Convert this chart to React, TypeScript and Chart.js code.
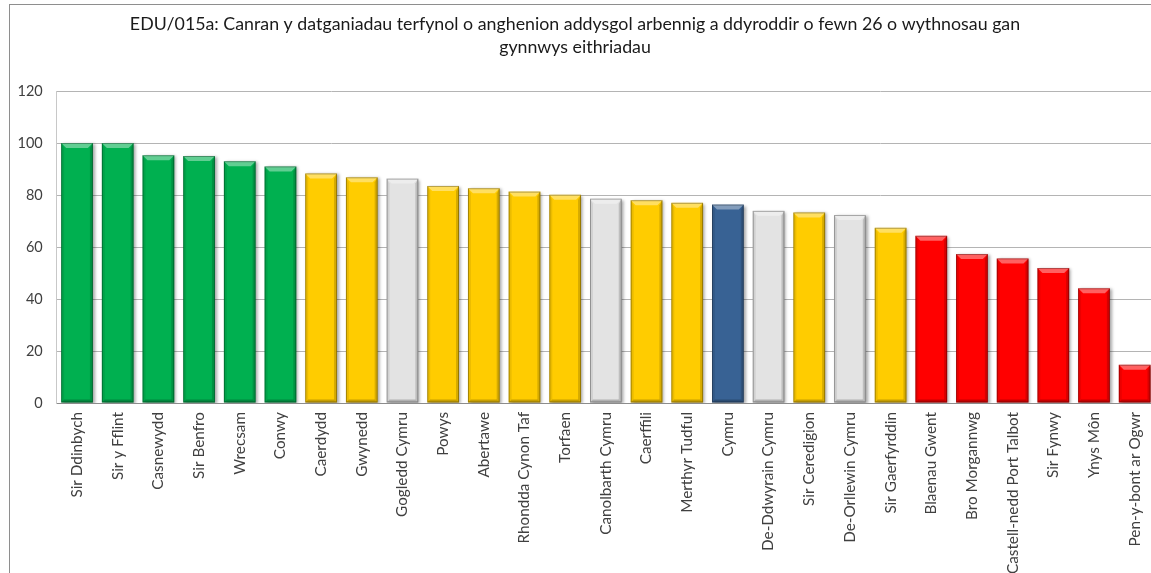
import React, { useEffect, useRef } from "react";
import { Chart, registerables } from "chart.js";

Chart.register(...registerables);

const TITLE_LINES = [
  "EDU/015a: Canran y datganiadau terfynol o anghenion addysgol arbennig a ddyroddir o fewn 26 o wythnosau gan",
  "gynnwys eithriadau",
];

const CATEGORIES = [
  "Sir Ddinbych",
  "Sir y Fflint",
  "Casnewydd",
  "Sir Benfro",
  "Wrecsam",
  "Conwy",
  "Caerdydd",
  "Gwynedd",
  "Gogledd Cymru",
  "Powys",
  "Abertawe",
  "Rhondda Cynon Taf",
  "Torfaen",
  "Canolbarth Cymru",
  "Caerffili",
  "Merthyr Tudful",
  "Cymru",
  "De-Ddwyrain Cymru",
  "Sir Ceredigion",
  "De-Orllewin Cymru",
  "Sir Gaerfyrddin",
  "Blaenau Gwent",
  "Bro Morgannwg",
  "Castell-nedd Port Talbot",
  "Sir Fynwy",
  "Ynys Môn",
  "Pen-y-bont ar Ogwr",
];

const VALUES = [
  100, 100, 95.3, 95.0, 93.0, 91.0, 88.3, 86.8, 86.3, 83.5, 82.6, 81.3, 80.1,
  78.6, 78.0, 77.0, 76.3, 73.9, 73.3, 72.3, 67.4, 64.3, 57.3, 55.6, 51.9, 44.1,
  14.7,
];

// band of each category: top quartile, middle, region, Wales, bottom quartile
const BANDS = [
  "top", "top", "top", "top", "top", "top",
  "middle", "middle", "region", "middle", "middle", "middle", "middle",
  "region", "middle", "middle", "wales", "region", "middle", "region", "middle",
  "bottom", "bottom", "bottom", "bottom", "bottom", "bottom",
];

const Y_TICKS = [0, 20, 40, 60, 80, 100, 120];

const BAND_COLORS: Record<string, string> = {
  top: "#00B050",
  middle: "#FFCC00",
  region: "#E3E3E3",
  wales: "#386294",
  bottom: "#FF0000",
};

const FONT = "Lato, 'DejaVu Sans', sans-serif";
const TEXT_COLOR = "#404040";

const titlePlugin = {
  id: "customTitle",
  afterDraw(chart: any) {
    const ctx = chart.ctx;
    ctx.save();
    ctx.fillStyle = "#1a1a1a";
    ctx.font = `17.8px ${FONT}`;
    ctx.textAlign = "center";
    ctx.textBaseline = "alphabetic";
    const cx = 565;
    TITLE_LINES.forEach((line, i) => {
      ctx.fillText(line, cx, 25 + i * 23);
    });
    ctx.restore();
  },
};

const shadowPlugin = {
  id: "barShadow",
  beforeDatasetsDraw(chart: any) {
    const ctx = chart.ctx;
    ctx.save();
    ctx.shadowColor = "rgba(0,0,0,0.35)";
    ctx.shadowBlur = 3;
    ctx.shadowOffsetX = 2;
    ctx.shadowOffsetY = 1;
  },
  afterDatasetsDraw(chart: any) {
    chart.ctx.restore();
    const ctx = chart.ctx;
    const meta = chart.getDatasetMeta(0);
    ctx.save();
    meta.data.forEach((bar: any) => {
      const { x, y, base, width } = bar.getProps(["x", "y", "base", "width"], true);
      const l = x - width / 2;
      const r = x + width / 2;
      const t = Math.min(y, base);
      const b = Math.max(y, base);
      const bv = 5;
      // top highlight
      ctx.fillStyle = "rgba(255,255,255,0.38)";
      ctx.beginPath();
      ctx.moveTo(l, t);
      ctx.lineTo(r, t);
      ctx.lineTo(r - bv, t + bv);
      ctx.lineTo(l + bv, t + bv);
      ctx.closePath();
      ctx.fill();
      // left edge
      ctx.fillStyle = "rgba(0,0,0,0.08)";
      ctx.beginPath();
      ctx.moveTo(l, t);
      ctx.lineTo(l + 3, t + bv);
      ctx.lineTo(l + 3, b - 3);
      ctx.lineTo(l, b);
      ctx.closePath();
      ctx.fill();
      // right edge
      ctx.fillStyle = "rgba(0,0,0,0.16)";
      ctx.beginPath();
      ctx.moveTo(r, t);
      ctx.lineTo(r - 3, t + bv);
      ctx.lineTo(r - 3, b - 3);
      ctx.lineTo(r, b);
      ctx.closePath();
      ctx.fill();
      // bottom edge
      ctx.fillStyle = "rgba(0,0,0,0.22)";
      ctx.beginPath();
      ctx.moveTo(l, b);
      ctx.lineTo(r, b);
      ctx.lineTo(r - 3, b - 3);
      ctx.lineTo(l + 3, b - 3);
      ctx.closePath();
      ctx.fill();
      // outline
      ctx.strokeStyle = "rgba(0,0,0,0.3)";
      ctx.lineWidth = 1;
      ctx.strokeRect(l + 0.5, t + 0.5, width - 1, b - t - 1);
    });
    ctx.restore();
  },
};

export default function App() {
  const canvasRef = useRef<HTMLCanvasElement | null>(null);

  useEffect(() => {
    if (!canvasRef.current) return;
    const chart = new Chart(canvasRef.current, {
      type: "bar",
      data: {
        labels: CATEGORIES,
        datasets: [
          {
            data: VALUES,
            backgroundColor: BANDS.map((b) => BAND_COLORS[b]),
            borderWidth: 0,
            categoryPercentage: 1,
            barPercentage: 0.78,
          },
        ],
      },
      options: {
        animation: false,
        responsive: false,
        layout: { padding: { top: 86, right: 15, left: 0, bottom: 0 } },
        plugins: {
          legend: { display: false },
          title: { display: false },
          tooltip: { enabled: false },
        },
        scales: {
          x: {
            grid: { display: false, drawTicks: false },
            border: { display: true, color: "#8C8C8C", width: 1 },
            ticks: {
              color: TEXT_COLOR,
              font: { family: FONT, size: 15.3 },
              minRotation: 90,
              maxRotation: 90,
              autoSkip: false,
              padding: 9,
            },
            afterFit(scale: any) {
              scale.height = 202;
            },
          },
          y: {
            min: 0,
            max: 120,
            grid: { color: "#B4B4B4", drawTicks: false },
            border: { display: true, color: "#C8C8C8" },
            ticks: {
              color: TEXT_COLOR,
              font: { family: FONT, size: 14.5 },
              padding: 14,
            },
            afterBuildTicks(scale: any) {
              scale.ticks = Y_TICKS.map((v) => ({ value: v }));
            },
            afterFit(scale: any) {
              scale.width = 46.7;
            },
          },
        },
      },
      plugins: [shadowPlugin, titlePlugin],
    });
    return () => chart.destroy();
  }, []);

  return (
    <div
      style={{
        position: "fixed",
        left: 0,
        top: 0,
        width: 1151,
        height: 573,
        overflow: "hidden",
        background: "#fff",
      }}
    >
      <div
        style={{
          position: "absolute",
          left: 9,
          top: 4,
          width: 1200,
          height: 640,
          border: "1px solid #8E8E8E",
          boxSizing: "border-box",
        }}
      >
        <canvas
          ref={canvasRef}
          width={1160}
          height={600}
          style={{ position: "absolute", left: 0, top: 0, width: 1160, height: 600 }}
        />
      </div>
    </div>
  );
}
